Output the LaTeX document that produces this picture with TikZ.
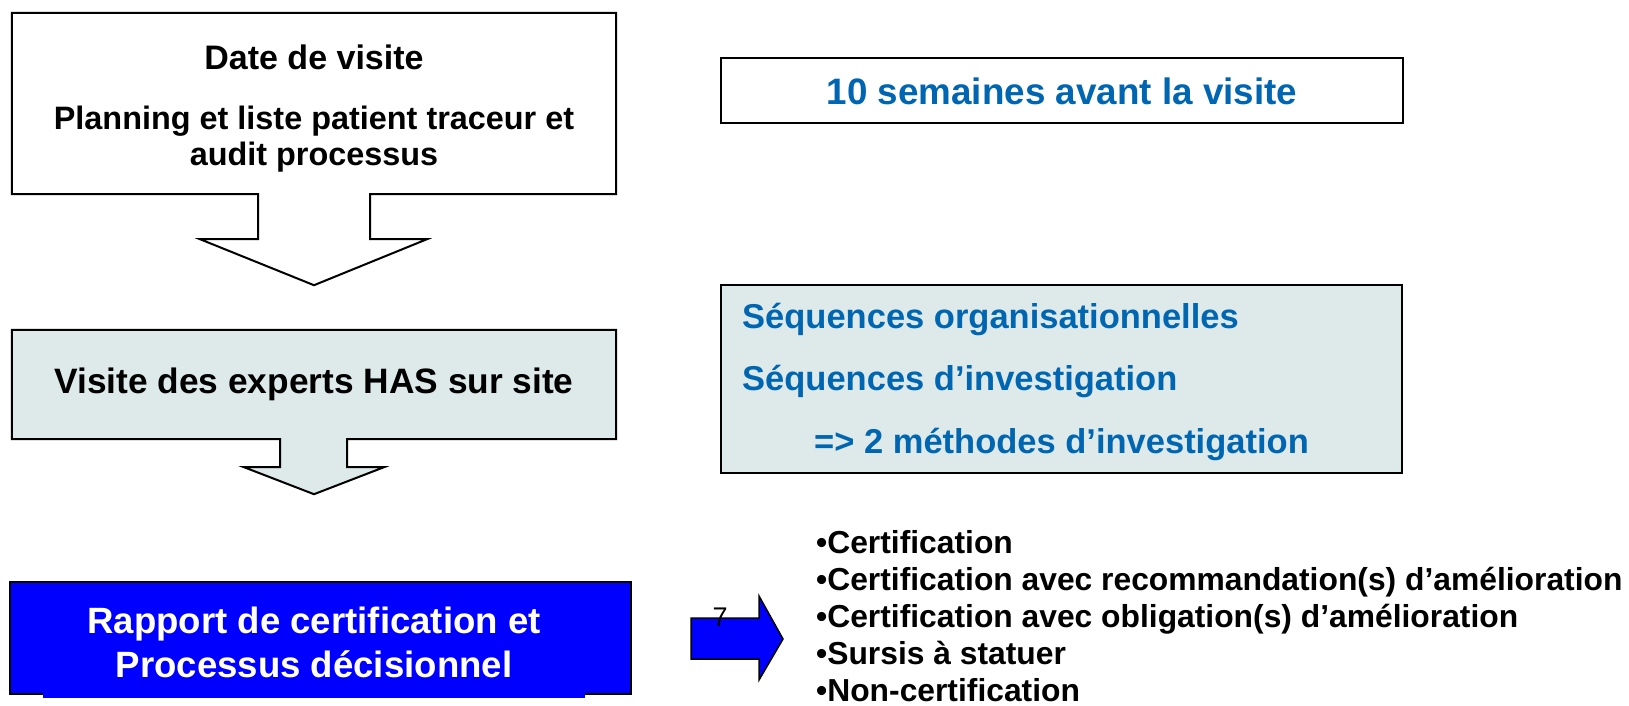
\documentclass[tikz,border=0pt]{standalone}
\usepackage{fontspec}
\setmainfont{Liberation Sans}
\definecolor{pale}{RGB}{222,234,234}
\definecolor{texteb}{RGB}{0,102,178}
\definecolor{vif}{RGB}{0,0,255}
\begin{document}
\begin{tikzpicture}[x=1pt,y=-1pt,
  cadre/.style={rectangle,inner sep=0pt},
  trait/.style={line width=2pt,line join=miter},
  titre/.style={anchor=base,inner sep=0pt,font=\fontsize{34}{40}\selectfont\bfseries},
  bleu/.style={anchor=base west,inner sep=0pt,text=texteb,font=\fontsize{34.5}{40}\selectfont\bfseries},
  liste/.style={anchor=base west,inner sep=0pt,font=\fontsize{31.8}{37}\selectfont\bfseries}]
\useasboundingbox (0,0) rectangle (1629,706);

% colonne de gauche
\node[cadre,minimum width=604,minimum height=181] (date) at (314,103.5) {};
\draw[trait,fill=white] (date.south west) -- (date.north west) -- (date.north east) -- (date.south east)
  -- ([xshift=56pt]date.south) -- ++(0,45) -- ++(57,0) -- ++(-113,46) -- ++(-114,-46) -- ++(58,0)
  -- ([xshift=-56pt]date.south) -- cycle;
\node[titre] (datet) at (314,70) {Date de visite};
\node[titre,font=\fontsize{32.4}{40}\selectfont\bfseries] (planning) at (314,129) {Planning et liste patient traceur et};
\node[titre,font=\fontsize{32.4}{40}\selectfont\bfseries] (audit) at (314,165) {audit processus};

\node[cadre,minimum width=604,minimum height=109] (visite) at (314,384.5) {};
\draw[trait,fill=pale] (visite.south west) -- (visite.north west) -- (visite.north east) -- (visite.south east)
  -- ([xshift=33pt]visite.south) -- ++(0,28) -- ++(37,0) -- ++(-70,27) -- ++(-70,-27) -- ++(36,0)
  -- ([xshift=-34pt]visite.south) -- cycle;
\node[titre,font=\fontsize{35.3}{40}\selectfont\bfseries] (visitet) at (314,393) {Visite des experts HAS sur site};

\node[cadre,draw,trait,fill=vif,minimum width=621,minimum height=112] (rapport) at (320.5,638) {};
\fill[vif] ([xshift=34pt,yshift=3pt]rapport.south west) rectangle ([xshift=-47pt,yshift=-3pt]rapport.south east);
\node[titre,text=white,font=\fontsize{36.6}{40}\selectfont\bfseries] (rapport1) at (314,633) {Rapport de certification et};
\node[titre,text=white,font=\fontsize{36.6}{40}\selectfont\bfseries] (rapport2) at (314,677) {Processus décisionnel};

% colonne de droite
\node[cadre,draw,trait,minimum width=682,minimum height=65] (semaines) at (1062,90.5) {};
\node[titre,text=texteb,font=\fontsize{36.8}{40}\selectfont\bfseries] (semainest) at (1062,105) {10 semaines avant la visite};

\node[cadre,draw,trait,fill=pale,minimum width=681,minimum height=188] (sequences) at (1061.5,379) {};
\node[bleu] (seq1) at (742,328) {Séquences organisationnelles};
\node[bleu] (seq2) at (742,390) {Séquences d’investigation};
\node[bleu] (seq3) at (814,453) {=> 2 méthodes d’investigation};

\coordinate (queue) at (691,618);
\draw[line width=1.5pt,fill=vif] (queue) -- ++(68,0) -- ++(0,-22) -- ++(24,43) -- ++(-24,41) -- ++(0,-21) -- ++(-68,0) -- cycle;
\node[anchor=base,inner sep=0pt,font=\fontsize{27}{30}\selectfont] (sept) at (720,626) {7};

\foreach \t [count=\i] in {Certification,Certification avec recommandation(s) d’amélioration,Certification avec obligation(s) d’amélioration,Sursis à statuer,Non-certification}
  \node[liste] (res\i) at (816,{553+37*(\i-1)}) {•\t};
\end{tikzpicture}
\end{document}
